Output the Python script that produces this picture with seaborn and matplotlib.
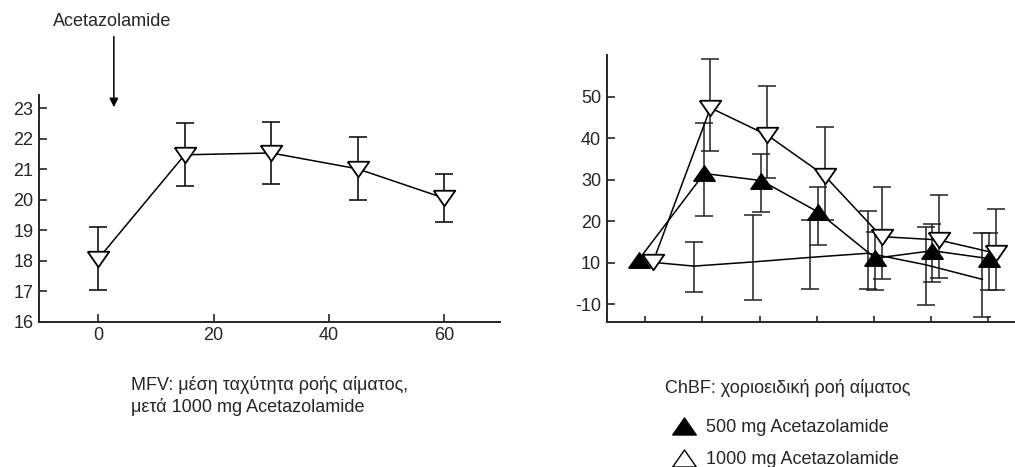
import numpy as np
import matplotlib
matplotlib.use('Agg')
import matplotlib.pyplot as plt
from matplotlib.lines import Line2D
import seaborn as sns

# MFV (left), minutes after 1000 mg Acetazolamide
mfv_time = [0, 15, 30, 45, 60]
mfv_mean = [18.07, 21.48, 21.54, 21.02, 20.06]
mfv_err = [1.03, 1.03, 1.03, 1.03, 0.78]
mfv_yticks = [16, 17, 18, 19, 20, 21, 22, 23]
mfv_xticks = [0, 20, 40, 60]

# ChBF (right), 7 time points, no tick labels on x
chbf_x = [0, 1, 2, 3, 4, 5, 6]
chbf_500 = [10.7, 31.5, 29.8, 22.2, 11.1, 12.9, 11.0]
chbf_500_lo = [np.nan, 21.3, 22.3, 14.4, 3.4, 5.4, 3.4]
chbf_500_hi = [np.nan, 43.7, 36.2, 28.3, 17.5, 19.3, 17.2]
chbf_1000 = [10.1, 47.3, 40.7, 31.0, 16.3, 15.5, 12.3]
chbf_1000_lo = [np.nan, 36.9, 30.3, 20.3, 6.0, 6.3, 3.4]
chbf_1000_hi = [np.nan, 59.1, 52.6, 42.8, 28.2, 26.2, 22.9]
chbf_base = [10.1, 9.2, 10.2, 11.3, 12.3, 9.5, 6.0]
chbf_base_lo = [np.nan, 3.0, 1.0, 3.8, 3.6, -0.2, -3.0]
chbf_base_hi = [np.nan, 14.9, 21.5, 20.3, 22.5, 18.5, 17.1]
chbf_yticklabels = ['-10', '10', '20', '30', '40', '50']

# small horizontal dodge so the markers don't sit on top of each other
dodge_500 = [-0.12, 0.03, 0.03, 0.03, 0.03, 0.03, 0.03]
dodge_1000 = [0.13, 0.14, 0.14, 0.14, 0.14, 0.14, 0.14]
dodge_base = [0.13, -0.15, -0.12, -0.11, -0.09, -0.08, -0.09]

sns.set_style('ticks')
plt.rcParams['font.family'] = ['Liberation Sans', 'DejaVu Sans']
plt.rcParams['font.size'] = 13

# flattened triangles like the original figure
tri_down = [(-1, 0.72), (1, 0.72), (0, -0.72), (-1, 0.72)]
tri_up = [(-1, -0.72), (1, -0.72), (0, 0.72), (-1, -0.72)]

fig = plt.figure(figsize=(10.15, 4.67), dpi=100)
ax1 = fig.add_axes([0.0384, 0.311, 0.454, 0.4854])
ax2 = fig.add_axes([0.5977, 0.311, 0.4023, 0.571])

# ---- left panel
ax1.errorbar(mfv_time, mfv_mean, yerr=mfv_err, fmt='none', ecolor='black',
             elinewidth=1.1, capsize=6.5, capthick=1.1, zorder=2)
sns.lineplot(x=mfv_time, y=mfv_mean, ax=ax1, color='black', lw=1.1,
             marker=tri_down, ms=15.5, mfc='white', mec='black', mew=1.3, zorder=3)
ax1.set_xlim(-10.3, 69.7)
ax1.set_ylim(16, 23.44)
ax1.set_xticks(mfv_xticks)
ax1.set_yticks(mfv_yticks)

ax1.annotate('', xy=(2.7, 22.95), xytext=(2.7, 25.45), annotation_clip=False,
             arrowprops=dict(arrowstyle='-|>', color='black', lw=1.1, mutation_scale=13))
fig.text(112 / 1015, 1 - 22 / 467, 'Acetazolamide', ha='center', va='center', fontsize=13)

# ---- right panel
def bars(ax, xs, dodge, lo, hi, mean):
    xs = np.array(xs) + np.array(dodge)
    lo, hi, mean = np.array(lo), np.array(hi), np.array(mean)
    ok = ~np.isnan(lo)
    yerr = [mean[ok] - lo[ok], hi[ok] - mean[ok]]
    ax.errorbar(xs[ok], mean[ok], yerr=yerr, fmt='none', ecolor='#222222',
                elinewidth=1.1, capsize=6.5, capthick=1.1, zorder=2)

bars(ax2, chbf_x, dodge_base, chbf_base_lo, chbf_base_hi, chbf_base)
bars(ax2, chbf_x, dodge_500, chbf_500_lo, chbf_500_hi, chbf_500)
bars(ax2, chbf_x, dodge_1000, chbf_1000_lo, chbf_1000_hi, chbf_1000)

sns.lineplot(x=np.array(chbf_x) + np.array(dodge_base), y=chbf_base, ax=ax2,
             color='black', lw=1.1, sort=False, zorder=3)
sns.lineplot(x=np.array(chbf_x) + np.array(dodge_500), y=chbf_500, ax=ax2,
             color='black', lw=1.1, sort=False, marker=tri_up, ms=15.5,
             mfc='black', mec='black', mew=1.0, zorder=4)
sns.lineplot(x=np.array(chbf_x) + np.array(dodge_1000), y=chbf_1000, ax=ax2,
             color='black', lw=1.1, sort=False, marker=tri_down, ms=15.5,
             mfc='white', mec='black', mew=1.3, zorder=5)

ax2.set_xlim(-0.68, 6.48)
ax2.set_ylim(-4.2, 60)
ax2.set_xticks(chbf_x)
ax2.set_xticklabels([])
ax2.set_yticks(range(0, 60, 10))
ax2.set_yticklabels(chbf_yticklabels)

for ax in (ax1, ax2):
    sns.despine(ax=ax)
    ax.spines['left'].set_linewidth(1.4)
    ax.spines['bottom'].set_linewidth(1.4)
    ax.tick_params(direction='in', length=5.5, width=1.2, labelsize=13, pad=4)
    ax.set_xlabel('')
    ax.set_ylabel('')
ax2.tick_params(axis='x', length=4.5)

# captions
fig.text(131 / 1015, 1 - 385 / 467, 'MFV: μέση ταχύτητα ροής αίματος,', ha='left', va='center', fontsize=13)
fig.text(131 / 1015, 1 - 407 / 467, 'μετά 1000 mg Acetazolamide', ha='left', va='center', fontsize=13)
fig.text(665 / 1015, 1 - 388 / 467, 'ChBF: χοριοειδική ροή αίματος', ha='left', va='center', fontsize=13)

handles = [
    Line2D([], [], ls='none', marker=tri_up, ms=17, mfc='black', mec='black', mew=1.0),
    Line2D([], [], ls='none', marker=tri_up, ms=17, mfc='white', mec='black', mew=1.0),
]
fig.legend(handles, ['500 mg Acetazolamide', '1000 mg Acetazolamide'],
           loc='upper left', bbox_to_anchor=(675 / 1015, 1 - 419 / 467),
           frameon=False, handlelength=1.0, handletextpad=0.7, labelspacing=0.85,
           borderpad=0, borderaxespad=0, fontsize=13)

plt.savefig('out.png', dpi=100)
plt.close()
